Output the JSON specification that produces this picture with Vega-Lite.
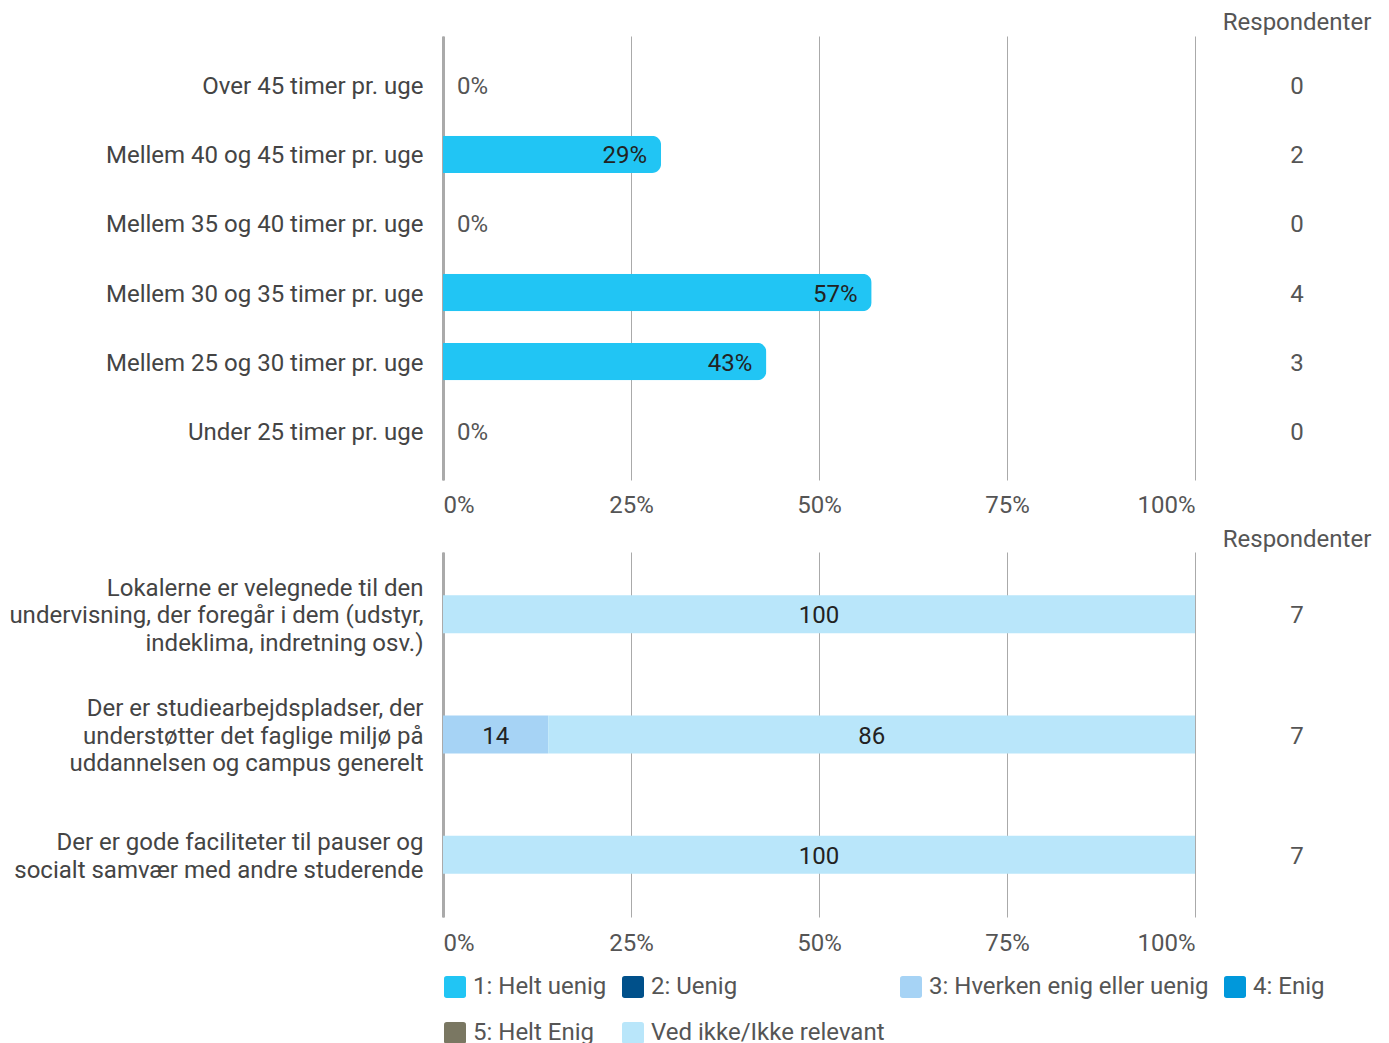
{
  "$schema": "https://vega.github.io/schema/vega-lite/v6.json",
  "padding": {"left": 0, "top": 11, "right": 0, "bottom": 0},
  "background": "white",
  "datasets": {
    "hours": [
      {"category": "Over 45 timer pr. uge", "pct": 0, "n": 0},
      {"category": "Mellem 40 og 45 timer pr. uge", "pct": 0.29, "n": 2},
      {"category": "Mellem 35 og 40 timer pr. uge", "pct": 0, "n": 0},
      {"category": "Mellem 30 og 35 timer pr. uge", "pct": 0.57, "n": 4},
      {"category": "Mellem 25 og 30 timer pr. uge", "pct": 0.43, "n": 3},
      {"category": "Under 25 timer pr. uge", "pct": 0, "n": 0}
    ],
    "facilities": [
      {"question": "Lokalerne er velegnede til den\nundervisning, der foregår i dem (udstyr,\nindeklima, indretning osv.)", "answer": "Ved ikke/Ikke relevant", "value": 100},
      {"question": "Der er studiearbejdspladser, der\nunderstøtter det faglige miljø på\nuddannelsen og campus generelt", "answer": "3: Hverken enig eller uenig", "value": 14},
      {"question": "Der er studiearbejdspladser, der\nunderstøtter det faglige miljø på\nuddannelsen og campus generelt", "answer": "Ved ikke/Ikke relevant", "value": 86},
      {"question": "Der er gode faciliteter til pauser og\nsocialt samvær med andre studerende", "answer": "Ved ikke/Ikke relevant", "value": 100}
    ],
    "facilities_n": [
      {"question": "Lokalerne er velegnede til den\nundervisning, der foregår i dem (udstyr,\nindeklima, indretning osv.)", "n": 7},
      {"question": "Der er studiearbejdspladser, der\nunderstøtter det faglige miljø på\nuddannelsen og campus generelt", "n": 7},
      {"question": "Der er gode faciliteter til pauser og\nsocialt samvær med andre studerende", "n": 7}
    ]
  },
  "columns": 2,
  "bounds": "flush",
  "spacing": {"row": 72, "column": 12},
  "resolve": {"scale": {"color": "independent"}},
  "concat": [
    {
      "width": 752,
      "height": 444,
      "data": {"name": "hours"},
      "encoding": {
        "y": {
          "field": "category", "type": "nominal", "sort": null,
          "scale": {"type": "band", "domain": ["Over 45 timer pr. uge", "Mellem 40 og 45 timer pr. uge", "Mellem 35 og 40 timer pr. uge", "Mellem 30 og 35 timer pr. uge", "Mellem 25 og 30 timer pr. uge", "Under 25 timer pr. uge"], "paddingInner": 0.46, "paddingOuter": 0.447},
          "axis": {"title": null, "ticks": false, "domainColor": "#aaaaaa", "domainWidth": 3, "labelPadding": 20, "labelOffset": 2, "labelColor": "#444444", "minExtent": 443, "maxExtent": 443, "labelLimit": 600, "grid": false}
        }
      },
      "layer": [
        {
          "mark": {"type": "bar", "color": "#21C5F4", "cornerRadiusEnd": 9},
          "encoding": {
            "x": {
              "field": "pct", "type": "quantitative",
              "scale": {"domain": [0, 1]},
              "axis": {"title": null, "values": [0, 0.25, 0.5, 0.75, 1], "format": ".0%", "grid": true, "gridColor": "#aaaaaa", "gridWidth": 1, "domain": false, "ticks": false, "labelFlush": true, "labelPadding": 13, "labelColor": "#555555"}
            }
          }
        },
        {
          "transform": [{"filter": "datum.pct > 0"}],
          "mark": {"type": "text", "align": "right", "dx": -14, "dy": 2, "fontSize": 24, "color": "#222222"},
          "encoding": {
            "x": {"field": "pct", "type": "quantitative"},
            "text": {"field": "pct", "type": "quantitative", "format": ".0%"}
          }
        },
        {
          "transform": [{"filter": "datum.pct == 0"}],
          "mark": {"type": "text", "align": "left", "dx": 14, "dy": 2, "fontSize": 24, "color": "#555555"},
          "encoding": {
            "x": {"field": "pct", "type": "quantitative"},
            "text": {"field": "pct", "type": "quantitative", "format": ".0%"}
          }
        }
      ]
    },
    {
      "width": 180,
      "height": 444,
      "data": {"name": "hours"},
      "title": {"text": "Respondenter", "fontSize": 24, "fontWeight": "normal", "color": "#555555", "anchor": "middle", "offset": 1},
      "mark": {"type": "text", "fontSize": 24, "color": "#555555", "dy": 2},
      "encoding": {
        "y": {
          "field": "category", "type": "nominal", "sort": null,
          "scale": {"type": "band", "domain": ["Over 45 timer pr. uge", "Mellem 40 og 45 timer pr. uge", "Mellem 35 og 40 timer pr. uge", "Mellem 30 og 35 timer pr. uge", "Mellem 25 og 30 timer pr. uge", "Under 25 timer pr. uge"], "paddingInner": 0.46, "paddingOuter": 0.447},
          "axis": null
        },
        "text": {"field": "n", "type": "quantitative"}
      }
    },
    {
      "width": 752,
      "height": 365,
      "data": {"name": "facilities"},
      "transform": [
        {"stack": "value", "groupby": ["question"], "sort": [{"field": "answer", "order": "ascending"}], "as": ["v0", "v1"]},
        {"calculate": "(datum.v0 + datum.v1) / 2", "as": "mid"}
      ],
      "encoding": {
        "y": {
          "field": "question", "type": "nominal", "sort": null,
          "scale": {"type": "band", "domain": ["Lokalerne er velegnede til den\nundervisning, der foregår i dem (udstyr,\nindeklima, indretning osv.)", "Der er studiearbejdspladser, der\nunderstøtter det faglige miljø på\nuddannelsen og campus generelt", "Der er gode faciliteter til pauser og\nsocialt samvær med andre studerende"], "paddingInner": 0.685, "paddingOuter": 0.36},
          "axis": {"title": null, "ticks": false, "domainColor": "#aaaaaa", "domainWidth": 3, "labelPadding": 20, "labelColor": "#444444", "minExtent": 443, "maxExtent": 443, "labelLimit": 600, "labelLineHeight": 27.5, "labelExpr": "split(datum.label, '\\n')", "labelOffset": {"condition": {"test": "indexof(datum.value, 'pauser') >= 0", "value": -11.5}, "value": -25.5}, "grid": false}
        }
      },
      "layer": [
        {
          "mark": {"type": "bar"},
          "encoding": {
            "x": {
              "field": "v0", "type": "quantitative",
              "scale": {"domain": [0, 100]},
              "axis": {"title": null, "values": [0, 25, 50, 75, 100], "labelExpr": "datum.value + '%'", "grid": true, "gridColor": "#aaaaaa", "gridWidth": 1, "domain": false, "ticks": false, "labelFlush": true, "labelPadding": 14, "labelColor": "#555555"}
            },
            "x2": {"field": "v1"},
            "color": {
              "field": "answer", "type": "nominal",
              "scale": {
                "domain": ["1: Helt uenig", "2: Uenig", "3: Hverken enig eller uenig", "4: Enig", "5: Helt Enig", "Ved ikke/Ikke relevant"],
                "range": ["#21C5F4", "#00508A", "#A6D3F5", "#0098DB", "#7A7762", "#B9E6FA"]
              },
              "legend": {
                "title": null, "orient": "bottom", "direction": "horizontal", "columns": 4, "gridAlign": "none",
                "symbolType": "M-0.75,-1 L0.75,-1 Q1,-1 1,-0.75 L1,0.75 Q1,1 0.75,1 L-0.75,1 Q-1,1 -1,0.75 L-1,-0.75 Q-1,-1 -0.75,-1 Z",
                "symbolSize": 484, "symbolStrokeWidth": 0, "symbolOpacity": 1,
                "labelFontSize": 24, "labelColor": "#555555", "labelOffset": 6, "labelLimit": 600,
                "columnPadding": 14, "rowPadding": 22, "offset": 20, "padding": 0
              }
            }
          }
        },
        {
          "mark": {"type": "text", "fontSize": 24, "color": "#222222", "dy": 2},
          "encoding": {
            "x": {"field": "mid", "type": "quantitative"},
            "text": {"field": "value", "type": "quantitative"}
          }
        }
      ]
    },
    {
      "width": 180,
      "height": 365,
      "data": {"name": "facilities_n"},
      "title": {"text": "Respondenter", "fontSize": 24, "fontWeight": "normal", "color": "#555555", "anchor": "middle", "offset": 0},
      "mark": {"type": "text", "fontSize": 24, "color": "#555555", "dy": 2},
      "encoding": {
        "y": {
          "field": "question", "type": "nominal", "sort": null,
          "scale": {"type": "band", "domain": ["Lokalerne er velegnede til den\nundervisning, der foregår i dem (udstyr,\nindeklima, indretning osv.)", "Der er studiearbejdspladser, der\nunderstøtter det faglige miljø på\nuddannelsen og campus generelt", "Der er gode faciliteter til pauser og\nsocialt samvær med andre studerende"], "paddingInner": 0.685, "paddingOuter": 0.36},
          "axis": null
        },
        "text": {"field": "n", "type": "quantitative"}
      }
    }
  ],
  "config": {
    "font": "Roboto",
    "view": {"stroke": null},
    "axis": {"labelFont": "Roboto", "labelFontSize": 24},
    "legend": {"labelFont": "Roboto", "gridAlign": "none"},
    "title": {"font": "Roboto"},
    "text": {"font": "Roboto"}
  }
}
